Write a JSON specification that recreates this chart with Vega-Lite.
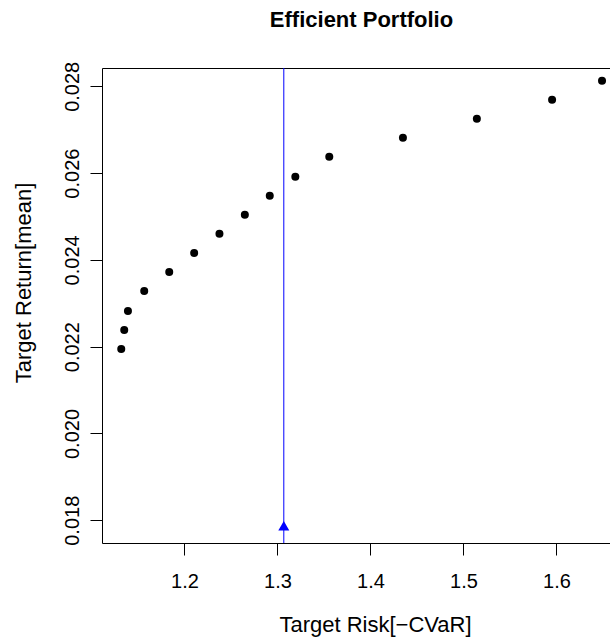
{
  "$schema": "https://vega.github.io/schema/vega-lite/v6.json",
  "width": 519,
  "height": 475,
  "autosize": {"type": "none"},
  "padding": {"left": 102, "top": 68, "right": 0, "bottom": 94},
  "background": "white",
  "title": {
    "text": "Efficient Portfolio",
    "font": "Liberation Sans",
    "fontSize": 22,
    "fontWeight": "bold",
    "color": "black",
    "anchor": "middle",
    "frame": "group",
    "baseline": "alphabetic",
    "offset": 12
  },
  "datasets": {
    "frontier": [
      {"risk": 1.1320, "ret": 0.021947},
      {"risk": 1.1352, "ret": 0.022385},
      {"risk": 1.1392, "ret": 0.022824},
      {"risk": 1.1567, "ret": 0.023285},
      {"risk": 1.1836, "ret": 0.023723},
      {"risk": 1.2104, "ret": 0.024161},
      {"risk": 1.2376, "ret": 0.024600},
      {"risk": 1.2649, "ret": 0.025038},
      {"risk": 1.2917, "ret": 0.025476},
      {"risk": 1.3192, "ret": 0.025915},
      {"risk": 1.3557, "ret": 0.026376},
      {"risk": 1.4349, "ret": 0.026814},
      {"risk": 1.5144, "ret": 0.027253},
      {"risk": 1.5953, "ret": 0.027691},
      {"risk": 1.6490, "ret": 0.028129}
    ],
    "selected": [
      {"risk": 1.3068, "ret": 0.017873}
    ]
  },
  "encoding": {
    "x": {
      "field": "risk",
      "type": "quantitative",
      "scale": {"domain": [1.1113, 1.6694], "nice": false, "zero": false},
      "axis": {
        "title": "Target Risk[−CVaR]",
        "values": [1.2, 1.3, 1.4, 1.5, 1.6],
        "format": ".1f",
        "grid": false,
        "domain": false,
        "tickSize": 12,
        "tickColor": "black",
        "tickWidth": 1,
        "labelFont": "Liberation Sans",
        "labelFontSize": 20,
        "labelColor": "black",
        "labelBaseline": "alphabetic",
        "labelPadding": 32,
        "labelFlush": false,
        "labelOverlap": false,
        "titleFont": "Liberation Sans",
        "titleFontSize": 22,
        "titleFontWeight": "normal",
        "titleColor": "black",
        "titleX": 273,
        "titleY": 88.5,
        "titleAlign": "center",
        "titleBaseline": "alphabetic"
      }
    },
    "y": {
      "field": "ret",
      "type": "quantitative",
      "scale": {"domain": [0.017476, 0.028422], "nice": false, "zero": false},
      "axis": {
        "title": "Target Return[mean]",
        "values": [0.018, 0.020, 0.022, 0.024, 0.026, 0.028],
        "format": ".3f",
        "grid": false,
        "domain": false,
        "tickSize": 12,
        "tickColor": "black",
        "tickWidth": 1,
        "labelFont": "Liberation Sans",
        "labelFontSize": 20,
        "labelColor": "black",
        "labelAngle": 270,
        "labelAlign": "center",
        "labelBaseline": "alphabetic",
        "labelPadding": 12,
        "labelFlush": false,
        "labelOverlap": false,
        "titleFont": "Liberation Sans",
        "titleFontSize": 22,
        "titleFontWeight": "normal",
        "titleColor": "black",
        "titleAngle": 270,
        "titleX": -71.5,
        "titleY": 214.5,
        "titleAlign": "center",
        "titleBaseline": "alphabetic"
      }
    }
  },
  "layer": [
    {
      "data": {"name": "frontier"},
      "mark": {"type": "point", "shape": "circle", "filled": true, "color": "black", "opacity": 1, "size": 64}
    },
    {
      "data": {"name": "selected"},
      "mark": {"type": "rule", "color": "#0000FF", "strokeWidth": 1},
      "encoding": {"y": null}
    },
    {
      "data": {"name": "selected"},
      "mark": {"type": "point", "shape": "triangle-up", "filled": true, "color": "#0000FF", "opacity": 1, "size": 121}
    }
  ],
  "config": {
    "view": {"stroke": "black", "strokeWidth": 1}
  }
}
